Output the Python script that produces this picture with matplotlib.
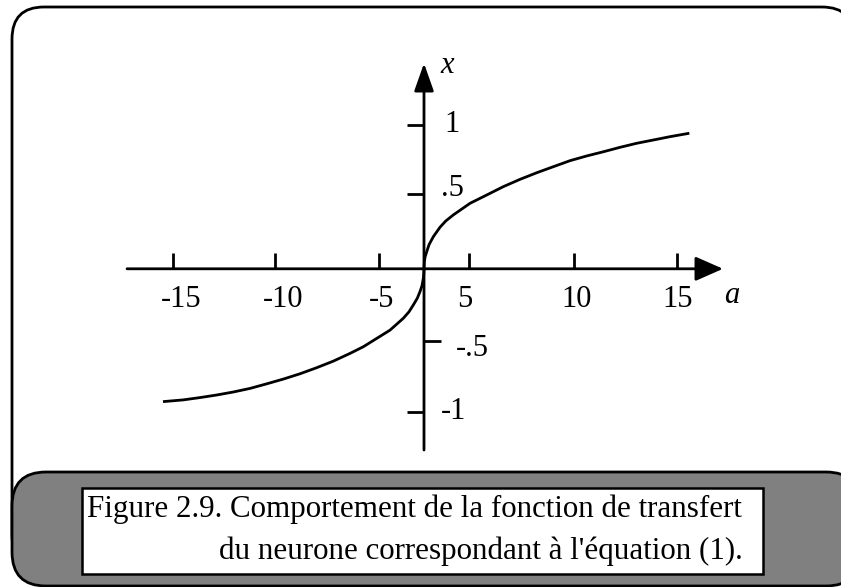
import matplotlib
matplotlib.use('Agg')
import matplotlib.pyplot as plt
from matplotlib.patches import FancyBboxPatch, Rectangle

plt.rcParams['font.family'] = ['Liberation Serif', 'DejaVu Serif']

# courbe x = f(a)
a_neg = [-15.6, -14.4, -13.4, -12.4, -11.4, -10.4, -9.40, -8.41, -7.41, -6.42,
         -5.42, -4.42, -3.63, -2.83, -2.03, -1.24, -0.90, -0.64, -0.40, -0.24,
         -0.12, -0.04, -0.01]
x_neg = [-0.925, -0.913, -0.897, -0.879, -0.858, -0.833, -0.801, -0.768, -0.731, -0.689,
         -0.643, -0.589, -0.543, -0.485, -0.427, -0.345, -0.300, -0.252, -0.205, -0.159,
         -0.118, -0.066, -0.030]
a_pos = [0.0, 0.02, 0.07, 0.16, 0.30, 0.56, 0.96, 1.30, 1.75, 2.75, 3.75, 4.74, 5.74, 6.74,
         7.73, 8.73, 9.73, 10.72, 11.72, 12.71, 13.71, 14.70, 15.86]
x_pos = [0.0, 0.050, 0.085, 0.118, 0.168, 0.224, 0.290, 0.333, 0.375, 0.456, 0.514, 0.572,
         0.623, 0.669, 0.711, 0.753, 0.786, 0.815, 0.846, 0.874, 0.897, 0.920, 0.944]

# graduations (placees comme sur le dessin)
a_ticks = [-15.0, -8.9, -2.67, 2.71, 8.98, 15.1]
a_labels = ['-15', '-10', '-5', '5', '10', '15']
x_ticks = [1.0, 0.52, -0.5, -1.0]
x_labels = ['1', '.5', '-.5', '-1']

# etendue des axes
a_min, a_max = -17.75, 17.87
x_min, x_max = -1.262, 1.431

caption1 = "Figure 2.9. Comportement de la fonction de transfert"
caption2 = "du neurone correspondant à l'équation (1)."

W, H = 841, 587
fig = plt.figure(figsize=(W / 100, H / 100), dpi=100)
fig.patch.set_facecolor('white')

# cadre (coordonnees en pixels)
fax = fig.add_axes([0, 0, 1, 1])
fax.set_xlim(0, W)
fax.set_ylim(H, 0)
fax.axis('off')
fax.add_patch(FancyBboxPatch((12, 7), 842, 560, boxstyle='round,pad=0,rounding_size=32',
                             fc='white', ec='black', lw=2))
fax.add_patch(FancyBboxPatch((12, 472), 848, 114, boxstyle='round,pad=0,rounding_size=34',
                             fc='#808080', ec='black', lw=2))
fax.add_patch(Rectangle((82, 488), 681, 86, fc='white', ec='black', lw=1.8))
fax.text(87, 516.7, caption1, fontsize=22.3, ha='left', va='baseline')
fax.text(743, 559, caption2, fontsize=22.3, ha='right', va='baseline')

# graphe
a_px, a_org = 16.73, 424.0
x_px, x_org = 143.6, 268.8
ax = fig.add_axes([0, 0, 1, 1])
ax.set_xlim(-a_org / a_px, (W - a_org) / a_px)
ax.set_ylim((x_org - H) / x_px, x_org / x_px)
ax.axis('off')
ax.patch.set_alpha(0)

ax.plot(a_neg + a_pos, x_neg + x_pos, color='black', lw=2,
        solid_capstyle='butt', solid_joinstyle='round')

ax.annotate('', xy=(a_max, 0), xytext=(a_min, 0),
            arrowprops=dict(arrowstyle='-|>,head_length=1.7,head_width=0.75',
                            mutation_scale=10, lw=2, color='black', shrinkA=0, shrinkB=0))
ax.annotate('', xy=(0, x_max), xytext=(0, x_min),
            arrowprops=dict(arrowstyle='-|>,head_length=1.7,head_width=0.6',
                            mutation_scale=10, lw=2, color='black', shrinkA=0, shrinkB=0))

ax.vlines(a_ticks, 0, 16 / x_px, color='black', lw=2)
a_label_dx = [8, 8, 2, -5, 2, 1]
for t, lab, dx in zip(a_ticks, a_labels, a_label_dx):
    ax.annotate(lab, (t, 0), xytext=(dx, -38), textcoords='offset pixels',
                fontsize=22, ha='center', va='baseline')

x_tick_side = [-1, -1, 1, -1]
x_label_off = [(20, -7), (17, -2), (32, -15), (17, -7)]
for t, lab, side, (dx, dy) in zip(x_ticks, x_labels, x_tick_side, x_label_off):
    ax.hlines(t, 0, side * 17 / a_px, color='black', lw=2)
    ax.annotate(lab, (0, t), xytext=(dx, dy), textcoords='offset pixels',
                fontsize=22, ha='left', va='baseline')

ax.annotate('x', (0, x_max), xytext=(16, -10), textcoords='offset pixels',
            fontsize=22, style='italic', ha='left', va='baseline')
ax.annotate('a', (a_max, 0), xytext=(1, -34), textcoords='offset pixels',
            fontsize=22, style='italic', ha='left', va='baseline')

fig.savefig('out.png', dpi=100)
